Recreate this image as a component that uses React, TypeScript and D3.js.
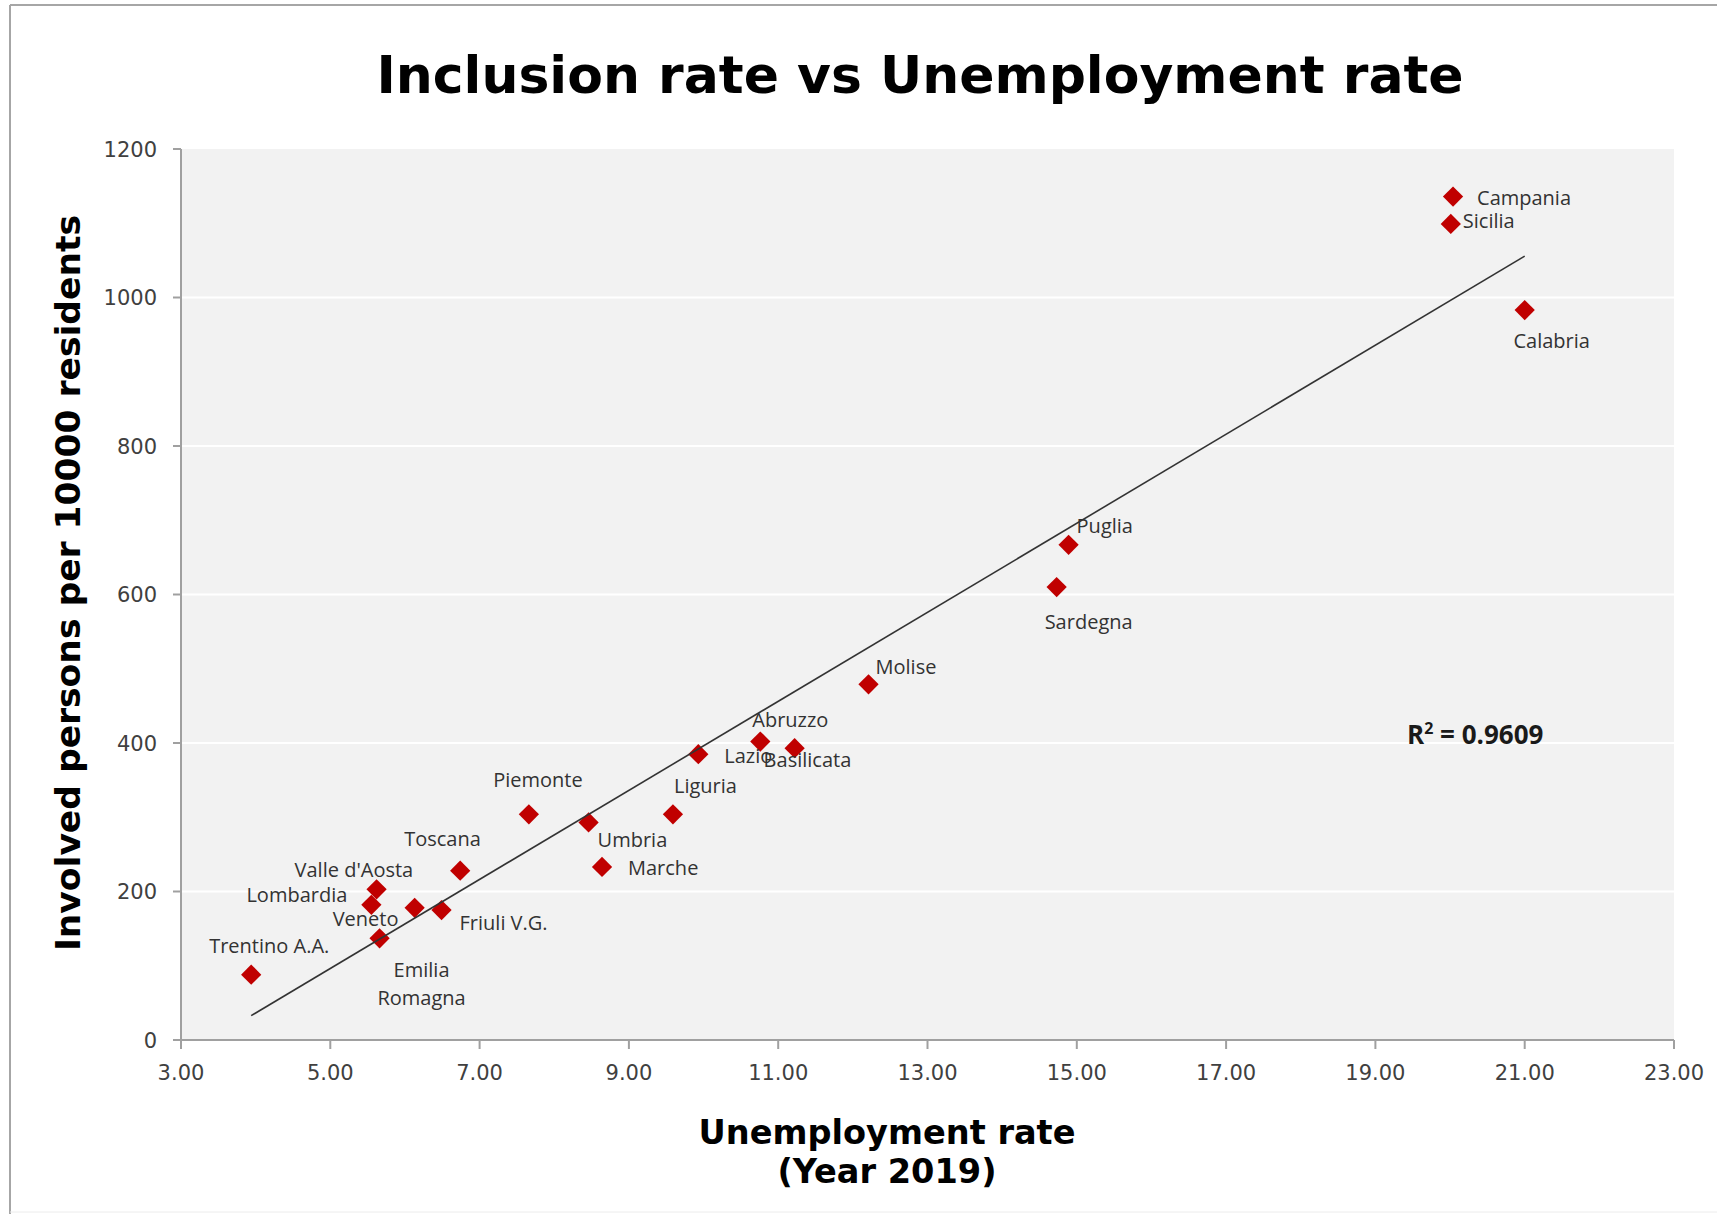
import React from "react";
import * as d3 from "d3";

// Regions of Italy: unemployment rate (2019) vs persons involved per 10000 residents
const regions = [
  "Campania", "Sicilia", "Calabria", "Puglia", "Sardegna", "Molise", "Abruzzo",
  "Basilicata", "Lazio", "Liguria", "Piemonte", "Umbria", "Marche", "Toscana",
  "Valle d'Aosta", "Lombardia", "Veneto", "Friuli V.G.", "Emilia Romagna", "Trentino A.A.",
];
const unemployment = [
  20.04, 20.01, 21.0, 14.89, 14.73, 12.21, 10.76,
  11.22, 9.93, 9.59, 7.66, 8.46, 8.64, 6.74,
  5.62, 5.55, 6.13, 6.49, 5.66, 3.94,
];
const inclusion = [
  1136, 1099, 983, 667, 610, 479, 402,
  393, 385, 304, 304, 293, 233, 228,
  203, 182, 178, 175, 137, 88,
];
const xTicks = [3, 5, 7, 9, 11, 13, 15, 17, 19, 21, 23];
const yTicks = [0, 200, 400, 600, 800, 1000, 1200];
const rSquaredText = "0.9609";

// Label placement relative to each marker: [dx, dy, anchor]
const labelPlacement: Record<string, [number, number, string]> = {
  "Campania": [24, 8, "start"],
  "Sicilia": [12, 4, "start"],
  "Calabria": [27, 38, "middle"],
  "Puglia": [8, -12, "start"],
  "Sardegna": [32, 42, "middle"],
  "Molise": [7, -10, "start"],
  "Abruzzo": [-8, -15, "start"],
  "Basilicata": [-31, 19, "start"],
  "Lazio": [26, 9, "start"],
  "Liguria": [1, -21, "start"],
  "Piemonte": [9, -27, "middle"],
  "Umbria": [9, 25, "start"],
  "Marche": [26, 8, "start"],
  "Toscana": [-56, -25, "start"],
  "Valle d'Aosta": [-82, -12, "start"],
  "Lombardia": [-24, -3, "end"],
  "Veneto": [-82, 18, "start"],
  "Friuli V.G.": [18, 20, "start"],
  "Emilia Romagna": [42, 39, "middle"],
  "Trentino A.A.": [-42, -22, "start"],
};

const W = 1717;
const H = 1214;
const plot = { left: 181, right: 1674, top: 149, bottom: 1040 };

export default function App() {
  const x = d3.scaleLinear().domain([3, 23]).range([plot.left, plot.right]);
  const y = d3.scaleLinear().domain([0, 1200]).range([plot.bottom, plot.top]);

  // Least-squares trend line
  const n = unemployment.length;
  const mx = d3.mean(unemployment) as number;
  const my = d3.mean(inclusion) as number;
  let sxy = 0;
  let sxx = 0;
  for (let i = 0; i < n; i++) {
    sxy += (unemployment[i] - mx) * (inclusion[i] - my);
    sxx += (unemployment[i] - mx) ** 2;
  }
  const slope = sxy / sxx;
  const intercept = my - slope * mx;
  const [x0, x1] = d3.extent(unemployment) as [number, number];
  const trend = d3.line<number>().x((d) => x(d)).y((d) => y(intercept + slope * d))([x0, x1]) as string;

  const diamond = d3.symbol().type(d3.symbolSquare).size(205)() as string;

  const tickFont = "'DejaVu Sans', Verdana, sans-serif";
  const labelFont = "'Open Sans', sans-serif";

  return (
    <svg
      width={W}
      height={H}
      style={{ position: "absolute", left: 0, top: 0, background: "#ffffff" }}
    >
      {/* frame */}
      <line x1={10} y1={5} x2={W} y2={5} stroke="#a6a6a6" strokeWidth={2} />
      <line x1={10} y1={5} x2={10} y2={H} stroke="#a6a6a6" strokeWidth={2} />
      <line x1={10} y1={H - 2} x2={W} y2={H - 2} stroke="#ececec" strokeWidth={1} />

      {/* title */}
      <text
        x={920}
        y={93}
        textAnchor="middle"
        fontFamily="'DejaVu Sans', Verdana, sans-serif"
        fontWeight="bold"
        fontSize={52}
        fill="#000"
      >
        Inclusion rate vs Unemployment rate
      </text>

      {/* plot area */}
      <rect
        x={plot.left}
        y={plot.top}
        width={plot.right - plot.left}
        height={plot.bottom - plot.top}
        fill="#f2f2f2"
      />
      {yTicks.filter((t) => t > 0 && t < 1200).map((t) => (
        <line
          key={`g${t}`}
          x1={plot.left}
          x2={plot.right}
          y1={y(t)}
          y2={y(t)}
          stroke="#ffffff"
          strokeWidth={2}
        />
      ))}

      {/* axes */}
      <line x1={plot.left} x2={plot.left} y1={plot.top} y2={plot.bottom} stroke="#a0a0a0" strokeWidth={2} />
      <line x1={plot.left} x2={plot.right} y1={plot.bottom} y2={plot.bottom} stroke="#a0a0a0" strokeWidth={2} />
      {yTicks.map((t) => (
        <g key={`y${t}`}>
          <line x1={plot.left - 8} x2={plot.left} y1={y(t)} y2={y(t)} stroke="#a0a0a0" strokeWidth={2} />
          <text
            x={157}
            y={y(t)}
            dy="0.36em"
            textAnchor="end"
            fontFamily={tickFont}
            fontSize={21}
            fill="#404040"
          >
            {t}
          </text>
        </g>
      ))}
      {xTicks.map((t) => (
        <g key={`x${t}`}>
          <line x1={x(t)} x2={x(t)} y1={plot.bottom} y2={plot.bottom + 9} stroke="#a0a0a0" strokeWidth={2} />
          <text
            x={x(t)}
            y={1080}
            textAnchor="middle"
            fontFamily={tickFont}
            fontSize={21}
            fill="#404040"
          >
            {t.toFixed(2)}
          </text>
        </g>
      ))}

      {/* axis titles */}
      <text
        transform={`translate(68, 583) rotate(-90)`}
        dy="0.35em"
        textAnchor="middle"
        fontFamily="'DejaVu Sans', Verdana, sans-serif"
        fontWeight="bold"
        fontSize={34.5}
        fill="#000"
      >
        Involved persons per 10000 residents
      </text>
      <text
        x={887}
        textAnchor="middle"
        fontFamily="'DejaVu Sans', Verdana, sans-serif"
        fontWeight="bold"
        fontSize={33.6}
        fill="#000"
      >
        <tspan x={887} y={1144}>Unemployment rate</tspan>
        <tspan x={887} y={1183}>(Year 2019)</tspan>
      </text>

      {/* markers */}
      {regions.map((r, i) => (
        <path
          key={`m${r}`}
          d={diamond}
          transform={`translate(${x(unemployment[i])},${y(inclusion[i])}) rotate(45)`}
          fill="#c00000"
        />
      ))}

      {/* trend line */}
      <path d={trend} fill="none" stroke="#333333" strokeWidth={1.6} />

      {/* data labels */}
      {regions.map((r, i) => {
        const [dx, dy, anchor] = labelPlacement[r];
        const px = x(unemployment[i]) + dx;
        const py = y(inclusion[i]) + dy;
        const lines = r === "Emilia Romagna" ? ["Emilia", "Romagna"] : [r];
        return (
          <text
            key={`l${r}`}
            textAnchor={anchor as any}
            fontFamily={labelFont}
            fontSize={20}
            fill="#333333"
          >
            {lines.map((t, k) => (
              <tspan key={t} x={px} y={py + k * 28}>
                {t}
              </tspan>
            ))}
          </text>
        );
      })}

      {/* coefficient of determination */}
      <text x={1407} y={744} fontFamily={labelFont} fontWeight="bold" fontSize={26} fill="#1a1a1a">
        R<tspan dy={-10} fontSize={16}>2</tspan>
        <tspan dy={10}>{` = ${rSquaredText}`}</tspan>
      </text>
    </svg>
  );
}
